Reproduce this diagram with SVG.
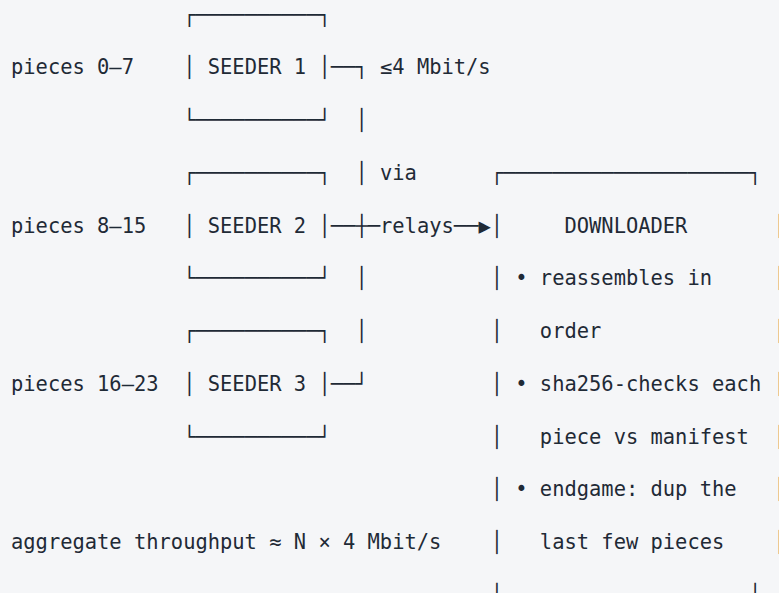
<svg xmlns="http://www.w3.org/2000/svg" width="779" height="593" viewBox="0 0 779 593">
<style>
text{font-family:"DejaVu Sans Mono","Liberation Mono",monospace;font-size:20.43px;fill:#1f2a36;white-space:pre}
</style>
<rect width="779" height="593" fill="#f5f6f8"/>
<g id="labels">
<text x="11" y="74.25">pieces 0–7</text>
<text x="11" y="232.5">pieces 8–15</text>
<text x="11" y="390.75">pieces 16–23</text>
<text x="11" y="549">aggregate throughput ≈ N × 4 Mbit/s</text>
</g>
<g id="seeder1">
<text x="183.2" y="21.5">┌──────────┐</text>
<text x="183.2" y="74.25">│ SEEDER 1 │</text>
<text x="183.2" y="127">└──────────┘</text>
</g>
<g id="seeder2">
<text x="183.2" y="179.75">┌──────────┐</text>
<text x="183.2" y="232.5">│ SEEDER 2 │</text>
<text x="183.2" y="285.25">└──────────┘</text>
</g>
<g id="seeder3">
<text x="183.2" y="338">┌──────────┐</text>
<text x="183.2" y="390.75">│ SEEDER 3 │</text>
<text x="183.2" y="443.5">└──────────┘</text>
</g>
<g id="connectors">
<text x="330.8" y="74.25">──┐</text>
<text x="355.4" y="127">│</text>
<text x="355.4" y="179.75">│</text>
<text x="330.8" y="232.5">──┼─</text>
<text x="453.8" y="232.5">──▶</text>
<text x="355.4" y="285.25">│</text>
<text x="355.4" y="338">│</text>
<text x="330.8" y="390.75">──┘</text>
</g>
<g id="connector-labels">
<text x="380" y="74.25">≤4 Mbit/s</text>
<text x="380" y="179.75">via</text>
<text x="380" y="232.5">relays</text>
</g>
<g id="downloader">
<text x="490.7" y="179.75">┌────────────────────┐</text>
<text x="490.7" y="232.5">│     DOWNLOADER</text>
<text x="490.7" y="285.25">│ • reassembles in</text>
<text x="490.7" y="338">│   order</text>
<text x="490.7" y="390.75">│ • sha256-checks each</text>
<text x="490.7" y="443.5">│   piece vs manifest</text>
<text x="490.7" y="496.25">│ • endgame: dup the</text>
<text x="490.7" y="549">│   last few pieces</text>
<text x="490.7" y="601.75">└────────────────────┘</text>
<text x="773.6" y="232.5">│</text>
<text x="773.6" y="285.25">│</text>
<text x="773.6" y="338">│</text>
<text x="773.6" y="390.75">│</text>
<text x="773.6" y="443.5">│</text>
<text x="773.6" y="496.25">│</text>
<text x="773.6" y="549">│</text>
</g>
</svg>
